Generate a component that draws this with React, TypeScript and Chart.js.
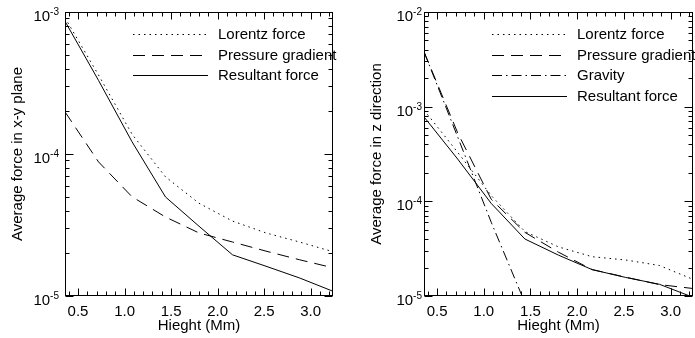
import React, { useEffect, useRef } from 'react';
import { Chart, registerables } from 'chart.js';

Chart.register(...registerables);

const FONT = "'Liberation Sans', Arial, Helvetica, sans-serif";

// Heights (Mm) at which the averages are sampled
const heights = [0.36, 0.72, 1.08, 1.44, 1.8, 2.16, 2.52, 2.88, 3.24];
const xTickValues = [0.5, 1.0, 1.5, 2.0, 2.5, 3.0];

// Left panel: average force in x-y plane
const xyLabels = ['Lorentz force', 'Pressure gradient', 'Resultant force'];
const xyLorentz = [9.1e-4, 3.6e-4, 1.38e-4, 6.9e-5, 4.5e-5, 3.37e-5, 2.78e-5, 2.4e-5, 2.05e-5];
const xyPressure = [1.98e-4, 8.8e-5, 5.0e-5, 3.6e-5, 2.78e-5, 2.4e-5, 2.07e-5, 1.8e-5, 1.58e-5];
const xyResultant = [8.6e-4, 3.3e-4, 1.22e-4, 4.98e-5, 3.1e-5, 1.95e-5, 1.62e-5, 1.34e-5, 1.08e-5];

// Right panel: average force in z direction
const zLabels = ['Lorentz force', 'Pressure gradient', 'Gravity', 'Resultant force'];
const zLorentz = [9.2e-4, 3.3e-4, 1.15e-4, 4.8e-5, 3.3e-5, 2.6e-5, 2.4e-5, 2.1e-5, 1.5e-5];
const zPressure = [3.8e-3, 5.3e-4, 1.05e-4, 4.7e-5, 2.9e-5, 1.9e-5, 1.58e-5, 1.32e-5, 1.2e-5];
const zGravity = [3.8e-3, 4.8e-4, 6.0e-5, 8.5e-6, null, null, null, null, null];
const zResultant = [7.8e-4, 2.8e-4, 9.5e-5, 4.0e-5, 2.7e-5, 1.9e-5, 1.57e-5, 1.33e-5, 9.7e-6];

const DOT = [1.5, 4];
const DASH = [12, 7];
const DASHDOT = [10, 4, 1.5, 4];

function toPoints(values: (number | null)[]) {
  const pts: { x: number; y: number }[] = [];
  heights.forEach((h, i) => {
    const v = values[i];
    if (v !== null && v !== undefined) pts.push({ x: h, y: v });
  });
  return pts;
}

function ds(label: string, values: (number | null)[], dash: number[]) {
  return {
    label,
    data: toPoints(values),
    borderColor: '#000',
    borderWidth: 1,
    borderDash: dash,
    borderCapStyle: 'butt',
    pointRadius: 0,
    fill: false,
    tension: 0,
  };
}

const decor = {
  id: 'decor',
  afterDraw(chart: any, _args: any, opts: any) {
    const { ctx, chartArea } = chart;
    const { left, right, top, bottom } = chartArea;
    const xs = chart.scales.x;
    const ys = chart.scales.y;
    ctx.save();
    ctx.strokeStyle = '#000';
    ctx.lineWidth = 1;
    ctx.setLineDash([]);
    const L = Math.round(left) + 0.5;
    const R = Math.round(right) - 0.5;
    const T = Math.round(top) + 0.5;
    const B = Math.round(bottom) - 0.5;
    ctx.strokeRect(L, T, R - L, B - T);

    // x ticks (inward, bottom and top)
    ctx.beginPath();
    for (let k = 4; k <= 32; k++) {
      const v = k / 10;
      if (v < xs.min - 1e-9 || v > xs.max + 1e-9) continue;
      const px = Math.round(xs.getPixelForValue(v)) + 0.5;
      const len = k % 5 === 0 ? 7 : 4;
      ctx.moveTo(px, B);
      ctx.lineTo(px, B - len);
      ctx.moveTo(px, T);
      ctx.lineTo(px, T + len);
    }
    // y ticks (inward, left and right)
    const e0 = Math.round(Math.log10(ys.min));
    const e1 = Math.round(Math.log10(ys.max));
    for (let e = e0; e <= e1; e++) {
      for (let m = 1; m <= 9; m++) {
        const v = m * Math.pow(10, e);
        if (v < ys.min * 0.999 || v > ys.max * 1.001) continue;
        const py = Math.round(ys.getPixelForValue(v)) + 0.5;
        const len = m === 1 ? 8 : 4;
        ctx.moveTo(L, py);
        ctx.lineTo(L + len, py);
        ctx.moveTo(R, py);
        ctx.lineTo(R - len, py);
      }
    }
    ctx.stroke();

    // y tick labels 10^e
    ctx.fillStyle = '#000';
    ctx.textAlign = 'left';
    ctx.textBaseline = 'alphabetic';
    for (let e = e0; e <= e1; e++) {
      const py = ys.getPixelForValue(Math.pow(10, e));
      const exp = String(e);
      ctx.font = `10px ${FONT}`;
      const ew = ctx.measureText(exp).width;
      ctx.font = `15px ${FONT}`;
      const bw = ctx.measureText('10').width;
      const xe = left - opts.labelGap - ew;
      const xb = xe - bw;
      ctx.fillText('10', xb, py + 9);
      ctx.font = `10px ${FONT}`;
      ctx.fillText(exp, xe, py + 3);
    }

    // legend inside plot
    ctx.font = `15px ${FONT}`;
    ctx.textBaseline = 'middle';
    chart.data.datasets.forEach((d: any, i: number) => {
      const y = Math.round(top + 22 + i * 20.6) + 0.5;
      ctx.beginPath();
      ctx.setLineDash(d.borderDash || []);
      ctx.moveTo(left + 68, y);
      ctx.lineTo(left + 143, y);
      ctx.stroke();
      ctx.setLineDash([]);
      ctx.fillText(d.label, left + 153, y);
    });
    ctx.restore();
  },
};

type PanelProps = {
  x: number;
  width: number;
  datasets: any[];
  yMin: number;
  yMax: number;
  yTitle: string;
  labelGap: number;
  padRight: number;
};

function Panel({ x, width, datasets, yMin, yMax, yTitle, labelGap, padRight }: PanelProps) {
  const ref = useRef<HTMLCanvasElement>(null);
  useEffect(() => {
    const chart = new Chart(ref.current as HTMLCanvasElement, {
      type: 'line',
      data: { datasets },
      options: {
        responsive: false,
        animation: false,
        devicePixelRatio: 1,
        events: [],
        layout: { padding: { left: 0, top: 12, right: padRight, bottom: 0 } },
        plugins: {
          legend: { display: false },
          tooltip: { enabled: false },
          decor: { labelGap },
        } as any,
        scales: {
          x: {
            type: 'linear',
            min: 0.36,
            max: 3.24,
            grid: { display: false, drawTicks: false },
            border: { display: false },
            afterBuildTicks: (s: any) => {
              s.ticks = xTickValues.map((v) => ({ value: v }));
            },
            afterFit: (s: any) => {
              s.height = 42;
            },
            ticks: {
              autoSkip: false,
              maxRotation: 0,
              padding: 7,
              color: '#000',
              font: { family: FONT, size: 15 },
              callback: (v: any) => Number(v).toFixed(1),
            },
            title: {
              display: true,
              text: 'Hieght (Mm)',
              color: '#000',
              font: { family: FONT, size: 15 },
              padding: { top: 0, bottom: 3 },
            },
          },
          y: {
            type: 'logarithmic',
            min: yMin,
            max: yMax,
            grid: { display: false, drawTicks: false },
            border: { display: false },
            ticks: { display: false },
            afterFit: (s: any) => {
              s.width = 65;
            },
            title: {
              display: true,
              text: yTitle,
              color: '#000',
              font: { family: FONT, size: 15 },
              padding: { top: 9, bottom: 0 },
            },
          },
        },
      } as any,
      plugins: [decor],
    });
    return () => chart.destroy();
  }, []);
  return (
    <canvas
      ref={ref}
      width={width}
      height={338}
      style={{ position: 'absolute', left: x, top: 0, width, height: 338, display: 'block' }}
    />
  );
}

export default function App() {
  const xyData = [
    ds(xyLabels[0], xyLorentz, DOT),
    ds(xyLabels[1], xyPressure, DASH),
    ds(xyLabels[2], xyResultant, []),
  ];
  const zData = [
    ds(zLabels[0], zLorentz, DOT),
    ds(zLabels[1], zPressure, DASH),
    ds(zLabels[2], zGravity, DASHDOT),
    ds(zLabels[3], zResultant, []),
  ];
  return (
    <div style={{ position: 'absolute', left: 0, top: 0, width: 695, height: 338, background: '#fff', overflow: 'hidden' }}>
      <Panel x={0} width={347} datasets={xyData} yMin={1e-5} yMax={1e-3} yTitle="Average force in x-y plane" labelGap={6} padRight={14} />
      <Panel x={359} width={336} datasets={zData} yMin={1e-5} yMax={1e-2} yTitle="Average force in z direction" labelGap={2} padRight={2} />
    </div>
  );
}
